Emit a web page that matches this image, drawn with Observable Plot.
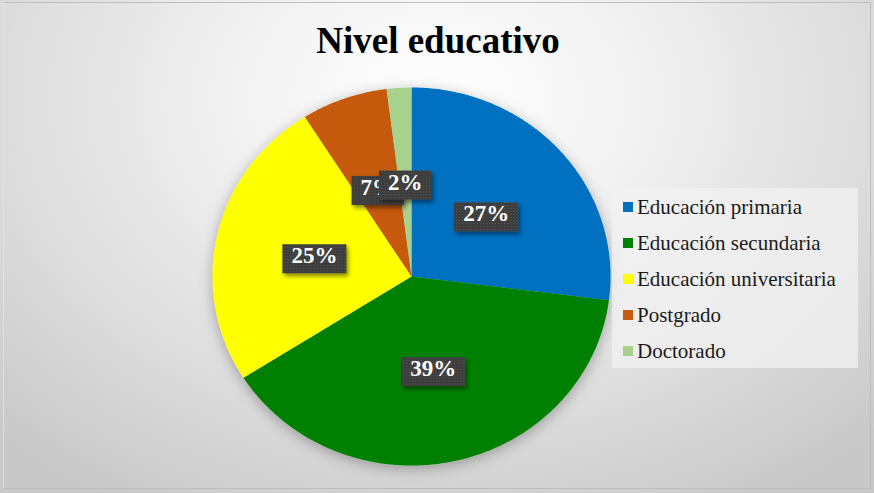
<!DOCTYPE html>
<html><head><meta charset="utf-8">
<script src="https://cdn.jsdelivr.net/npm/d3@7"></script>
<script src="https://cdn.jsdelivr.net/npm/@observablehq/plot@0.6"></script>
<style>
html,body{margin:0;padding:0;background:#fff;}
#chart{position:relative;width:874px;height:493px;overflow:hidden;
  background: radial-gradient(ellipse 72% 95% at 50% 20%, #ffffff 0%, #f3f3f3 30%, #dddddd 68%, #c8c8c8 100%);
  font-family:"Liberation Serif","Times New Roman","DejaVu Serif",serif;}
#frame{position:absolute;left:3px;top:2px;width:868px;height:487px;border:1px solid #bdbdbd;border-left-color:#e0e0e0;pointer-events:none;box-sizing:border-box;}
#title{position:absolute;left:0;top:19px;width:876px;text-align:center;font-weight:bold;font-size:37px;line-height:44px;color:#000;font-family:"Liberation Serif","Times New Roman","DejaVu Serif",serif;}
#plot{position:absolute;left:0;top:0;}
#legend{position:absolute;left:612px;top:188px;width:246px;height:180px;background:rgba(242,242,242,0.75);}
#legend .lg-swatches{margin:0 !important;padding:1px 0 0 11px !important;font-family:"Liberation Serif","Times New Roman","DejaVu Serif",serif !important;font-size:21px !important;color:#1a1a1a !important;}
#legend .lg-swatch{display:flex !important;align-items:center !important;height:36px !important;padding:0 !important;margin:0 !important;}
#legend .lg-swatch-label{font-family:"Liberation Serif","Times New Roman",serif !important;}
#legend .lg-swatch svg{margin-right:4px !important;flex-shrink:0;}
</style>
</head><body>
<div id="chart">
  <div id="frame"></div>
  <div id="plot"></div>
  <div id="title">Nivel educativo</div>
  <div id="legend"></div>
</div>
<script>
const categories = ["Educación primaria","Educación secundaria","Educación universitaria","Postgrado","Doctorado"];
const shares = [27, 39, 25, 7, 2];
const colors = ["#0070c0","#008000","#ffff00","#c55a11","#a9d18e"];

const arcs = d3.pie().sort(null).value(d => d)(shares);
const pts = [];
const labels = [];
arcs.forEach((a, i) => {
  const n = Math.max(2, Math.ceil((a.endAngle - a.startAngle) / 0.01));
  pts.push({cat: categories[i], x: 0, y: 0});
  for (let k = 0; k <= n; k++) {
    const t = a.startAngle + (a.endAngle - a.startAngle) * k / n;
    pts.push({cat: categories[i], x: Math.sin(t), y: Math.cos(t)});
  }
  pts.push({cat: categories[i], x: 0, y: 0});
  const m = (a.startAngle + a.endAngle) / 2;
  labels.push({x: 0.5 * Math.sin(m), y: 0.5 * Math.cos(m), t: shares[i] + "%"});
});

const serif = "Liberation Serif, Times New Roman, serif";
const svg = Plot.plot({
  width: 874, height: 493, margin: 0,
  x: {domain: [-1, 1], range: [212, 610], axis: null},
  y: {domain: [-1, 1], range: [465, 87], axis: null},
  color: {domain: categories, range: colors},
  style: {background: "transparent", overflow: "visible"},
  marks: [
    Plot.line(pts, {x: "x", y: "y", z: "cat", fill: "cat", stroke: "none"}),
    Plot.text(labels, {x: "x", y: "y", text: "t", fill: "white", fontWeight: "bold", fontSize: 23, fontFamily: serif})
  ]
});
document.getElementById("plot").append(svg);

const ns = "http://www.w3.org/2000/svg";
function el(name, attrs, parent) {
  const e = document.createElementNS(ns, name);
  for (const k in attrs) e.setAttribute(k, attrs[k]);
  if (parent) parent.appendChild(e);
  return e;
}
const defs = el("defs", {});
svg.insertBefore(defs, svg.firstChild);
const pat = el("pattern", {id: "lbldots", width: 3, height: 3, patternUnits: "userSpaceOnUse"}, defs);
el("rect", {width: 3, height: 3, fill: "#3e3e3e"}, pat);
el("rect", {width: 1, height: 1, fill: "#585858"}, pat);
const f1 = el("filter", {id: "lblShadow", x: "-30%", y: "-30%", width: "160%", height: "180%"}, defs);
el("feDropShadow", {dx: 2, dy: 3, stdDeviation: 2, "flood-color": "#000", "flood-opacity": 0.45}, f1);
const f2 = el("filter", {id: "pieShadow", x: "-20%", y: "-20%", width: "140%", height: "140%"}, defs);
el("feDropShadow", {dx: 0, dy: 3, stdDeviation: 7, "flood-color": "#000", "flood-opacity": 0.3}, f2);

const sl = svg.querySelector('g[aria-label="line"]');
if (sl) sl.setAttribute("filter", "url(#pieShadow)");
svg.querySelectorAll('g[aria-label="text"] text').forEach(t => {
  const b = t.getBBox();
  const r = el("rect", {
    x: b.x - 9, y: b.y + 1, width: b.width + 18, height: b.height + 4,
    fill: "url(#lbldots)", filter: "url(#lblShadow)"
  });
  const tr = t.getAttribute("transform");
  if (tr) r.setAttribute("transform", tr);
  t.parentNode.insertBefore(r, t);
});

const leg = Plot.legend({
  color: {type: "ordinal", domain: categories, range: colors},
  legend: "swatches", columns: 1, swatchSize: 10, className: "lg",
  style: {fontFamily: serif, fontSize: "21px", color: "#1a1a1a"}
});
document.getElementById("legend").append(leg);
</script>
</body></html>
